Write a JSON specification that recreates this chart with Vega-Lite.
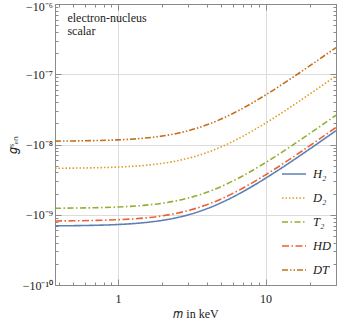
{
  "$schema": "https://vega.github.io/schema/vega-lite/v6.json",
  "width": 281,
  "height": 281,
  "autosize": "none",
  "padding": {"left": 55, "top": 4, "right": 1, "bottom": 34},
  "config": {
    "font": "Liberation Serif, Times New Roman, serif",
    "view": {"stroke": "#8a8a8a", "strokeWidth": 1},
    "axis": {
      "domainColor": "#8a8a8a",
      "tickColor": "#8a8a8a",
      "gridColor": "#dcdcdc",
      "labelColor": "#1a1a1a",
      "labelFont": "Liberation Serif, Times New Roman, serif",
      "labelFontSize": 12,
      "titleFont": "Liberation Serif, Times New Roman, serif",
      "titleFontWeight": "normal",
      "titleFontSize": 12,
      "titleColor": "#1a1a1a",
      "labelOverlap": false,
      "labelFlush": false
    }
  },
  "datasets": {
    "curves": [
      {"series": "H₂", "m": 0.375, "g": 6.95e-10},
      {"series": "H₂", "m": 0.5, "g": 6.99e-10},
      {"series": "H₂", "m": 0.7, "g": 7.08e-10},
      {"series": "H₂", "m": 1, "g": 7.26e-10},
      {"series": "H₂", "m": 1.5, "g": 7.71e-10},
      {"series": "H₂", "m": 2, "g": 8.32e-10},
      {"series": "H₂", "m": 2.5, "g": 9.08e-10},
      {"series": "H₂", "m": 3, "g": 9.98e-10},
      {"series": "H₂", "m": 4, "g": 1.217e-9},
      {"series": "H₂", "m": 5, "g": 1.481e-9},
      {"series": "H₂", "m": 6, "g": 1.783e-9},
      {"series": "H₂", "m": 7, "g": 2.12e-9},
      {"series": "H₂", "m": 8.5, "g": 2.68e-9},
      {"series": "H₂", "m": 10, "g": 3.31e-9},
      {"series": "H₂", "m": 12, "g": 4.22e-9},
      {"series": "H₂", "m": 15, "g": 5.75e-9},
      {"series": "H₂", "m": 18, "g": 7.46e-9},
      {"series": "H₂", "m": 21, "g": 9.32e-9},
      {"series": "H₂", "m": 25, "g": 1.203e-8},
      {"series": "H₂", "m": 30, "g": 1.573e-8},
      {"series": "D₂", "m": 0.375, "g": 4.59e-9},
      {"series": "D₂", "m": 0.5, "g": 4.613e-9},
      {"series": "D₂", "m": 0.7, "g": 4.664e-9},
      {"series": "D₂", "m": 1, "g": 4.772e-9},
      {"series": "D₂", "m": 1.5, "g": 5.033e-9},
      {"series": "D₂", "m": 2, "g": 5.391e-9},
      {"series": "D₂", "m": 2.5, "g": 5.84e-9},
      {"series": "D₂", "m": 3, "g": 6.37e-9},
      {"series": "D₂", "m": 4, "g": 7.67e-9},
      {"series": "D₂", "m": 5, "g": 9.24e-9},
      {"series": "D₂", "m": 6, "g": 1.104e-8},
      {"series": "D₂", "m": 7, "g": 1.305e-8},
      {"series": "D₂", "m": 8.5, "g": 1.641e-8},
      {"series": "D₂", "m": 10, "g": 2.015e-8},
      {"series": "D₂", "m": 12, "g": 2.564e-8},
      {"series": "D₂", "m": 15, "g": 3.487e-8},
      {"series": "D₂", "m": 18, "g": 4.513e-8},
      {"series": "D₂", "m": 21, "g": 5.633e-8},
      {"series": "D₂", "m": 25, "g": 7.26e-8},
      {"series": "D₂", "m": 30, "g": 9.49e-8},
      {"series": "T₂", "m": 0.375, "g": 1.238e-9},
      {"series": "T₂", "m": 0.5, "g": 1.245e-9},
      {"series": "T₂", "m": 0.7, "g": 1.259e-9},
      {"series": "T₂", "m": 1, "g": 1.289e-9},
      {"series": "T₂", "m": 1.5, "g": 1.361e-9},
      {"series": "T₂", "m": 2, "g": 1.46e-9},
      {"series": "T₂", "m": 2.5, "g": 1.584e-9},
      {"series": "T₂", "m": 3, "g": 1.731e-9},
      {"series": "T₂", "m": 4, "g": 2.088e-9},
      {"series": "T₂", "m": 5, "g": 2.52e-9},
      {"series": "T₂", "m": 6, "g": 3.016e-9},
      {"series": "T₂", "m": 7, "g": 3.57e-9},
      {"series": "T₂", "m": 8.5, "g": 4.5e-9},
      {"series": "T₂", "m": 10, "g": 5.52e-9},
      {"series": "T₂", "m": 12, "g": 7.04e-9},
      {"series": "T₂", "m": 15, "g": 9.57e-9},
      {"series": "T₂", "m": 18, "g": 1.24e-8},
      {"series": "T₂", "m": 21, "g": 1.547e-8},
      {"series": "T₂", "m": 25, "g": 1.995e-8},
      {"series": "T₂", "m": 30, "g": 2.61e-8},
      {"series": "HD", "m": 0.375, "g": 8.16e-10},
      {"series": "HD", "m": 0.5, "g": 8.2e-10},
      {"series": "HD", "m": 0.7, "g": 8.3e-10},
      {"series": "HD", "m": 1, "g": 8.5e-10},
      {"series": "HD", "m": 1.5, "g": 8.98e-10},
      {"series": "HD", "m": 2, "g": 9.65e-10},
      {"series": "HD", "m": 2.5, "g": 1.049e-9},
      {"series": "HD", "m": 3, "g": 1.148e-9},
      {"series": "HD", "m": 4, "g": 1.389e-9},
      {"series": "HD", "m": 5, "g": 1.679e-9},
      {"series": "HD", "m": 6, "g": 2.013e-9},
      {"series": "HD", "m": 7, "g": 2.386e-9},
      {"series": "HD", "m": 8.5, "g": 3.008e-9},
      {"series": "HD", "m": 10, "g": 3.7e-9},
      {"series": "HD", "m": 12, "g": 4.71e-9},
      {"series": "HD", "m": 15, "g": 6.42e-9},
      {"series": "HD", "m": 18, "g": 8.31e-9},
      {"series": "HD", "m": 21, "g": 1.038e-8},
      {"series": "HD", "m": 25, "g": 1.338e-8},
      {"series": "HD", "m": 30, "g": 1.75e-8},
      {"series": "DT", "m": 0.375, "g": 1.118e-8},
      {"series": "DT", "m": 0.5, "g": 1.124e-8},
      {"series": "DT", "m": 0.7, "g": 1.137e-8},
      {"series": "DT", "m": 1, "g": 1.164e-8},
      {"series": "DT", "m": 1.5, "g": 1.231e-8},
      {"series": "DT", "m": 2, "g": 1.322e-8},
      {"series": "DT", "m": 2.5, "g": 1.437e-8},
      {"series": "DT", "m": 3, "g": 1.573e-8},
      {"series": "DT", "m": 4, "g": 1.903e-8},
      {"series": "DT", "m": 5, "g": 2.301e-8},
      {"series": "DT", "m": 6, "g": 2.759e-8},
      {"series": "DT", "m": 7, "g": 3.269e-8},
      {"series": "DT", "m": 8.5, "g": 4.121e-8},
      {"series": "DT", "m": 10, "g": 5.068e-8},
      {"series": "DT", "m": 12, "g": 6.46e-8},
      {"series": "DT", "m": 15, "g": 8.792e-8},
      {"series": "DT", "m": 18, "g": 1.139e-7},
      {"series": "DT", "m": 21, "g": 1.423e-7},
      {"series": "DT", "m": 25, "g": 1.834e-7},
      {"series": "DT", "m": 30, "g": 2.398e-7}
    ]
  },
  "resolve": {"axis": {"x": "independent", "y": "independent"}},
  "layer": [
    {
      "data": {"name": "curves"},
      "mark": {"type": "line", "strokeWidth": 1.6, "clip": true, "interpolate": "monotone"},
      "encoding": {
        "x": {
          "field": "m", "type": "quantitative",
          "scale": {"type": "log", "domain": [0.375, 30], "nice": false},
          "axis": {
            "title": "𝑚 in keV",
            "titlePadding": 1,
            "values": [0.4, 0.5, 0.6, 0.7, 0.8, 0.9, 1, 2, 3, 4, 5, 6, 7, 8, 9, 10, 20, 30],
            "labelExpr": "datum.value == 1 ? '1' : datum.value == 10 ? '10' : ''",
            "tickSize": {"condition": {"test": "datum.value == 1 || datum.value == 10", "value": -6}, "value": -3},
            "labelPadding": 14,
            "grid": true,
            "gridOpacity": {"condition": {"test": "datum.value == 1 || datum.value == 10", "value": 1}, "value": 0}
          }
        },
        "y": {
          "field": "g", "type": "quantitative",
          "scale": {"type": "log", "domain": [1e-10, 1e-6], "nice": false},
          "axis": {
            "title": "𝑔ˢₑₙ",
            "titlePadding": 3,
            "values": [1e-10, 2e-10, 3e-10, 4e-10, 5e-10, 6e-10, 7e-10, 8e-10, 9e-10, 1e-9, 2e-9, 3e-9, 4e-9, 5e-9, 6e-9, 7e-9, 8e-9, 9e-9, 1e-8, 2e-8, 3e-8, 4e-8, 5e-8, 6e-8, 7e-8, 8e-8, 9e-8, 1e-7, 2e-7, 3e-7, 4e-7, 5e-7, 6e-7, 7e-7, 8e-7, 9e-7, 1e-6],
            "labelExpr": "abs(log(datum.value)/LN10 - round(log(datum.value)/LN10)) > 0.001 ? '' : round(log(datum.value)/LN10) == -6 ? '−10⁻⁶' : round(log(datum.value)/LN10) == -7 ? '−10⁻⁷' : round(log(datum.value)/LN10) == -8 ? '−10⁻⁸' : round(log(datum.value)/LN10) == -9 ? '−10⁻⁹' : '−10⁻¹⁰'",
            "labelOffset": {"condition": {"test": "datum.value == 1e-6", "value": 2.5}, "value": 0},
            "tickSize": {"condition": {"test": "abs(log(datum.value)/LN10 - round(log(datum.value)/LN10)) < 0.001", "value": -6}, "value": -3},
            "labelPadding": 8.5,
            "grid": true,
            "gridOpacity": {"condition": {"test": "abs(log(datum.value)/LN10 - round(log(datum.value)/LN10)) < 0.001", "value": 1}, "value": 0}
          }
        },
        "color": {
          "field": "series", "type": "nominal",
          "scale": {"domain": ["H₂", "D₂", "T₂", "HD", "DT"], "range": ["#5E81B5", "#E19C24", "#8FB032", "#EB6235", "#C56E1A"]},
          "legend": {"orient": "none", "legendX": 226, "legendY": 157, "title": null, "symbolType": "stroke", "symbolSize": 576, "symbolStrokeWidth": 1.6, "labelFont": "Liberation Serif, Times New Roman, serif", "labelFontStyle": "italic", "labelFontSize": 12.5, "labelColor": "#1a1a1a", "rowPadding": 4, "labelOffset": 6, "padding": 0}
        },
        "strokeDash": {
          "field": "series", "type": "nominal",
          "scale": {"domain": ["H₂", "D₂", "T₂", "HD", "DT"], "range": [[1, 0], [1.5, 2], [6, 2.5, 1.5, 2.5], [7, 2.5, 1.5, 2.5], [6, 2, 1.5, 2, 1.5, 2]]},
          "legend": {"orient": "none", "legendX": 226, "legendY": 157, "title": null, "symbolType": "stroke", "symbolSize": 576, "symbolStrokeWidth": 1.6, "labelFont": "Liberation Serif, Times New Roman, serif", "labelFontStyle": "italic", "labelFontSize": 12.5, "labelColor": "#1a1a1a", "rowPadding": 4, "labelOffset": 6, "padding": 0}
        }
      }
    },
    {
      "data": {"name": "curves"},
      "mark": {"type": "line", "opacity": 0},
      "encoding": {
        "x": {
          "field": "m", "type": "quantitative",
          "axis": {
            "orient": "top", "title": null, "labels": false, "grid": false,
            "values": [0.4, 0.5, 0.6, 0.7, 0.8, 0.9, 1, 2, 3, 4, 5, 6, 7, 8, 9, 10, 20, 30],
            "tickSize": {"condition": {"test": "datum.value == 1 || datum.value == 10", "value": -6}, "value": -3}
          }
        },
        "y": {
          "field": "g", "type": "quantitative",
          "axis": {
            "orient": "right", "title": null, "labels": false, "grid": false,
            "values": [1e-10, 2e-10, 3e-10, 4e-10, 5e-10, 6e-10, 7e-10, 8e-10, 9e-10, 1e-9, 2e-9, 3e-9, 4e-9, 5e-9, 6e-9, 7e-9, 8e-9, 9e-9, 1e-8, 2e-8, 3e-8, 4e-8, 5e-8, 6e-8, 7e-8, 8e-8, 9e-8, 1e-7, 2e-7, 3e-7, 4e-7, 5e-7, 6e-7, 7e-7, 8e-7, 9e-7, 1e-6],
            "tickSize": {"condition": {"test": "abs(log(datum.value)/LN10 - round(log(datum.value)/LN10)) < 0.001", "value": -6}, "value": -3}
          }
        }
      }
    },
    {
      "data": {"values": [{"note": "electron-nucleus"}]},
      "mark": {"type": "text", "align": "left", "baseline": "top", "font": "Liberation Serif, Times New Roman, serif", "fontSize": 12, "color": "#1a1a1a", "lineHeight": 13},
      "encoding": {
        "x": {"datum": 0.455, "type": "quantitative", "axis": null},
        "y": {"datum": 7.5e-7, "type": "quantitative", "axis": null},
        "text": {"value": ["electron-nucleus", "scalar"]}
      }
    }
  ]
}
